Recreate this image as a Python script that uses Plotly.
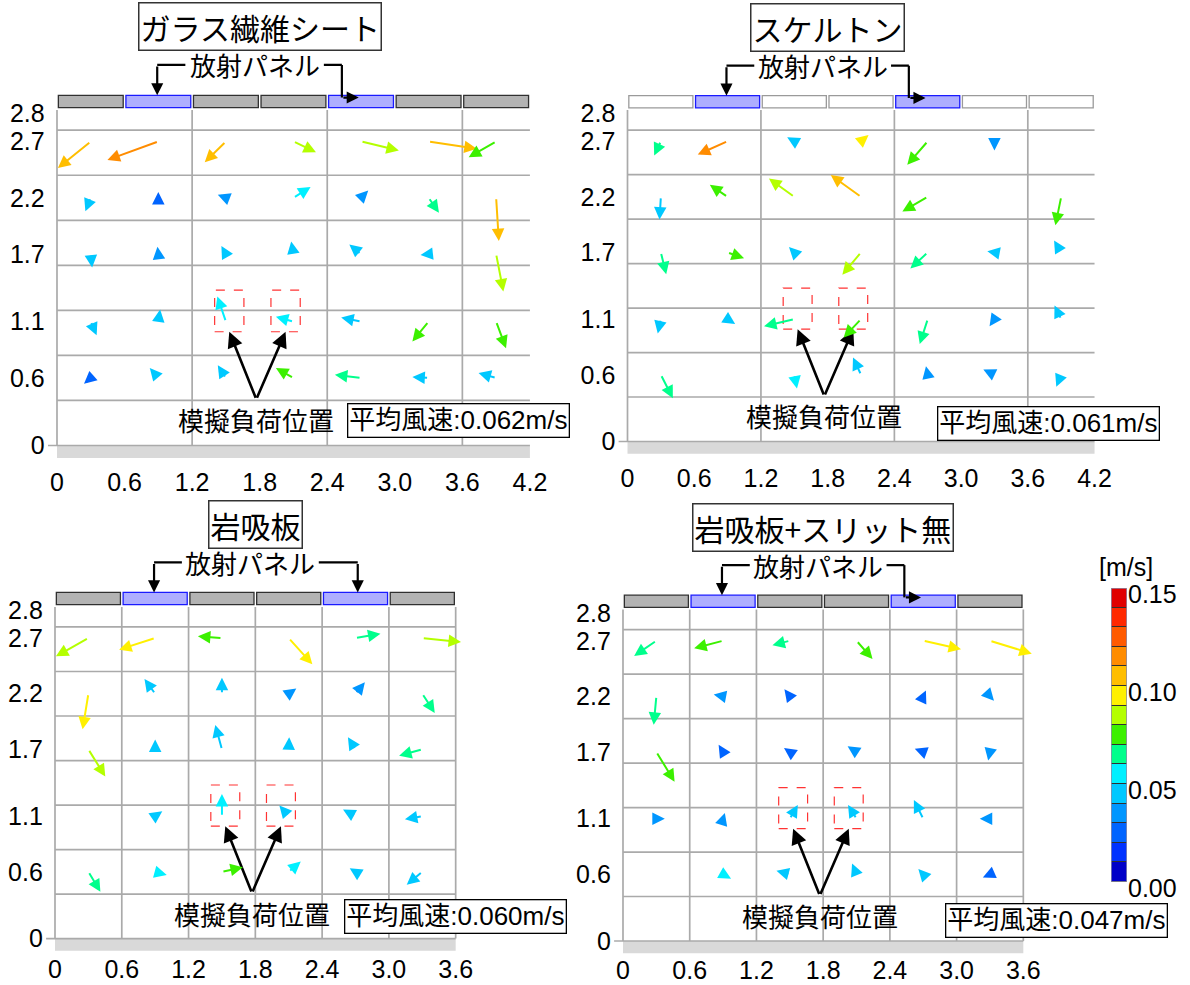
import plotly.graph_objects as go

FIG_W, FIG_H = 1190, 985

# ------------------------------------------------------------------ data
ROW_HEIGHTS = [2.7, 2.2, 1.7, 1.1, 0.6]            # measurement heights [m] (rows top -> bottom)
Y_TICK_VALUES = [0, 0.6, 1.1, 1.7, 2.2, 2.7]
Y_TICK_TEXT = ["0", "0.6", "1.1", "1.7", "2.2", "2.7"]
CEILING_TEXT = "2.8"
X_TICK_VALUES = [0, 0.6, 1.2, 1.8, 2.4, 3.0, 3.6, 4.2]
X_TICK_TEXT = ["0", "0.6", "1.2", "1.8", "2.4", "3.0", "3.6", "4.2"]

PANEL_TITLES = ["ガラス繊維シート", "スケルトン", "岩吸板", "岩吸板+スリット無"]
ROOM_WIDTHS = [4.2, 4.2, 3.6, 3.6]
MEAN_SPEEDS = [0.062, 0.061, 0.060, 0.047]
SEGMENT_WIDTH = 0.6
RADIANT_SEGMENTS = [1, 4]
LOAD_X = [1.53, 2.03]
LOAD_Y = [1.01, 1.38]

SPEED_TICKS = [0.00, 0.05, 0.10, 0.15]
SPEED_TICK_TEXT = ["0.00", "0.05", "0.10", "0.15"]
BAND_STEP = 0.01
BAND_COLORS = ["#0000C8", "#0032FF", "#0064FF", "#0096FF", "#00C8FF",
               "#00F0FF", "#00FF8C", "#3CF000", "#B4FF00", "#FFF000",
               "#FFBE00", "#FF8C00", "#FF5A00", "#FF2800", "#E00000"]

# in-plane components u (horizontal) / w (vertical) [m/s] and speed magnitude [m/s]
GLASS_U = [[-0.073, -0.113, -0.047, 0.050, 0.084, 0.107, -0.061],
           [-0.012, 0.000, -0.018, 0.038, 0.016, 0.023, 0.006],
           [0.003, -0.002, -0.010, -0.005, -0.026, -0.018, 0.016],
           [0.013, 0.004, -0.019, -0.039, -0.044, -0.036, 0.022],
           [-0.015, -0.019, -0.018, -0.039, -0.058, -0.036, -0.039]]
GLASS_W = [[-0.059, -0.041, -0.046, -0.024, -0.020, -0.016, -0.035],
           [-0.030, 0.013, 0.007, 0.024, 0.016, -0.033, -0.096],
           [-0.030, 0.016, 0.018, 0.028, 0.021, -0.002, -0.083],
           [-0.030, 0.027, 0.056, 0.011, 0.009, -0.044, -0.059],
           [-0.013, 0.022, 0.028, 0.022, 0.007, 0.002, 0.011]]
GLASS_S = [[0.105, 0.119, 0.105, 0.085, 0.088, 0.109, 0.075],
           [0.045, 0.025, 0.035, 0.055, 0.035, 0.065, 0.105],
           [0.045, 0.035, 0.045, 0.045, 0.045, 0.045, 0.088],
           [0.045, 0.045, 0.059, 0.055, 0.045, 0.075, 0.075],
           [0.025, 0.045, 0.045, 0.075, 0.065, 0.045, 0.045]]

SKEL_U = [[-0.015, -0.067, -0.016, 0.017, -0.046, 0.000, 0.007],
          [-0.003, -0.040, -0.057, -0.068, -0.057, -0.003, -0.013],
          [0.012, 0.037, -0.012, -0.042, -0.039, -0.016, -0.016],
          [-0.007, 0.017, -0.068, -0.039, -0.018, -0.011, -0.015],
          [0.027, -0.005, 0.006, -0.018, -0.004, -0.025, -0.011]]
SKEL_W = [[-0.032, -0.030, 0.009, 0.014, -0.053, -0.021, -0.007],
          [-0.051, 0.027, 0.041, 0.049, -0.033, 0.009, -0.064],
          [-0.049, -0.013, 0.012, -0.050, -0.036, 0.003, 0.027],
          [-0.032, -0.011, -0.016, -0.041, -0.056, -0.016, 0.031],
          [-0.053, 0.003, -0.031, 0.039, 0.019, 0.012, -0.027]]
SKEL_S = [[0.065, 0.115, 0.045, 0.095, 0.075, 0.035, 0.025],
          [0.049, 0.075, 0.085, 0.105, 0.075, 0.035, 0.075],
          [0.065, 0.075, 0.045, 0.085, 0.065, 0.045, 0.045],
          [0.045, 0.045, 0.069, 0.075, 0.065, 0.035, 0.045],
          [0.065, 0.055, 0.055, 0.045, 0.035, 0.035, 0.045]]

ROCK_U = [[-0.073, -0.081, -0.054, 0.053, 0.056, 0.087],
          [-0.013, -0.024, 0.000, 0.017, 0.021, 0.028],
          [0.038, 0.000, -0.015, 0.001, -0.017, -0.052],
          [-0.005, 0.016, 0.000, -0.021, -0.028, -0.039],
          [0.027, 0.026, 0.047, 0.027, -0.013, -0.035]]
ROCK_W = [[-0.041, -0.026, 0.004, -0.059, 0.010, -0.009],
          [-0.080, 0.033, 0.036, 0.012, 0.026, -0.043],
          [-0.061, 0.022, 0.055, 0.027, 0.027, -0.014],
          [0.008, 0.011, 0.050, 0.024, 0.015, -0.007],
          [-0.045, -0.007, 0.010, 0.023, 0.008, -0.029]]
ROCK_S = [[0.085, 0.095, 0.075, 0.095, 0.065, 0.088],
          [0.095, 0.045, 0.045, 0.035, 0.035, 0.065],
          [0.085, 0.045, 0.049, 0.045, 0.045, 0.065],
          [0.035, 0.045, 0.055, 0.045, 0.045, 0.045],
          [0.065, 0.055, 0.075, 0.055, 0.045, 0.045]]

NOSLIT_U = [[-0.050, -0.065, -0.039, 0.036, 0.085, 0.094],
            [-0.006, -0.021, -0.012, -0.004, 0.006, 0.009],
            [0.041, -0.010, -0.013, -0.020, -0.019, -0.004],
            [0.019, 0.004, 0.018, -0.019, -0.021, -0.023],
            [0.002, 0.018, -0.030, -0.010, -0.011, -0.016]]
NOSLIT_W = [[-0.034, -0.017, -0.010, -0.041, -0.019, -0.029],
            [-0.064, 0.004, 0.016, 0.002, 0.013, -0.010],
            [-0.067, 0.016, 0.009, 0.013, 0.007, -0.019],
            [0.000, 0.013, 0.031, 0.031, 0.042, 0.000],
            [0.002, -0.010, 0.008, 0.024, 0.012, -0.007]]
NOSLIT_S = [[0.065, 0.075, 0.065, 0.075, 0.095, 0.099],
            [0.065, 0.035, 0.025, 0.045, 0.025, 0.035],
            [0.075, 0.025, 0.025, 0.035, 0.025, 0.035],
            [0.035, 0.035, 0.045, 0.045, 0.045, 0.035],
            [0.045, 0.055, 0.045, 0.045, 0.045, 0.025]]

PANEL_U = [GLASS_U, SKEL_U, ROCK_U, NOSLIT_U]
PANEL_W = [GLASS_W, SKEL_W, ROCK_W, NOSLIT_W]
PANEL_S = [GLASS_S, SKEL_S, ROCK_S, NOSLIT_S]

# ------------------------------------------------------------------ layout / style
ARROW_SCALE = 4.0          # drawn metres per (m/s)
CEILING_LABEL_POS = 2.95
ROOM_TOP = 2.98
BAR_Y = (3.0, 3.11)
FLOOR_Y = (-0.11, 0.0)
GRID_DY = 0.4
Y_RANGE = (-0.13, 3.95)
BRACKET_Y = 3.38
FONT = "Liberation Sans, Noto Sans CJK JP, sans-serif"
JFONT = "Noto Sans CJK JP, sans-serif"
GRID_COLOR = "#AAAAAA"

PANEL_LAYOUT = [
    dict(x0=57.0, y0=445.5, s=112.6, standoff=5, grid_dx=1.2, mean_xy=(3.57, 0.22), bracket="turn", plain="gray"),
    dict(x0=627.5, y0=441.5, s=111.2, standoff=5, grid_dx=1.2, mean_xy=(3.79, 0.16), bracket="turn", plain="white"),
    dict(x0=55.0, y0=938.6, s=111.3, standoff=-1, grid_dx=0.6, mean_xy=(3.60, 0.20), bracket="down", plain="gray"),
    dict(x0=623.0, y0=941.0, s=111.2, standoff=-2, grid_dx=0.6, mean_xy=(3.90, 0.18), bracket="turn", plain="gray"),
]


def band_color(speed):
    i = int(speed / BAND_STEP + 1e-9)
    return BAND_COLORS[max(0, min(i, len(BAND_COLORS) - 1))]


fig = go.Figure()
shapes, annotations = [], []
layout_axes = {}

for p, L in enumerate(PANEL_LAYOUT):
    n = p + 1
    xa = "x" if n == 1 else f"x{n}"
    ya = "y" if n == 1 else f"y{n}"
    xkey = "xaxis" if n == 1 else f"xaxis{n}"
    ykey = "yaxis" if n == 1 else f"yaxis{n}"
    Wr = ROOM_WIDTHS[p]
    xr = (-0.1, Wr + 0.45)
    s = L["s"]
    xdom = [(L["x0"] + xr[0] * s) / FIG_W, (L["x0"] + xr[1] * s) / FIG_W]
    ydom = [1 - (L["y0"] - Y_RANGE[0] * s) / FIG_H, 1 - (L["y0"] - Y_RANGE[1] * s) / FIG_H]
    nx = int(round(Wr / SEGMENT_WIDTH))
    xt_vals = [v for v in X_TICK_VALUES if v <= Wr + 1e-9]
    xt_text = X_TICK_TEXT[:len(xt_vals)]

    layout_axes[xkey] = dict(domain=xdom, range=list(xr), anchor=ya, showgrid=False, zeroline=False,
                             showline=False, ticks="", tickvals=xt_vals, ticktext=xt_text,
                             tickfont=dict(size=25, color="black", family=FONT), automargin=False,
                             ticklabelstandoff=L["standoff"], fixedrange=True)
    layout_axes[ykey] = dict(domain=ydom, range=list(Y_RANGE), anchor=xa, showgrid=False, zeroline=False,
                             showline=False, ticks="", automargin=False,
                             tickvals=Y_TICK_VALUES + [CEILING_LABEL_POS],
                             ticktext=Y_TICK_TEXT + [CEILING_TEXT],
                             tickfont=dict(size=25, color="black", family=FONT), fixedrange=True)

    # floor
    shapes.append(dict(type="rect", xref=xa, yref=ya, x0=0, x1=Wr, y0=FLOOR_Y[0], y1=FLOOR_Y[1],
                       fillcolor="#D9D9D9", line=dict(width=0), layer="below"))
    # horizontal grid lines
    k = 0
    while k * GRID_DY <= ROOM_TOP - 0.1:
        yy = k * GRID_DY
        shapes.append(dict(type="line", xref=xa, yref=ya, x0=(-0.08 if k == 0 else 0), x1=Wr, y0=yy, y1=yy,
                           line=dict(color=GRID_COLOR, width=1.7), layer="below"))
        k += 1
    # vertical grid lines
    k = 0
    while k * L["grid_dx"] <= Wr - 0.3:
        xx = k * L["grid_dx"]
        shapes.append(dict(type="line", xref=xa, yref=ya, x0=xx, x1=xx, y0=0, y1=ROOM_TOP,
                           line=dict(color=GRID_COLOR, width=1.7), layer="below"))
        k += 1
    if abs(Wr - 3.6) < 1e-9:
        shapes.append(dict(type="line", xref=xa, yref=ya, x0=Wr, x1=Wr, y0=0, y1=ROOM_TOP,
                           line=dict(color=GRID_COLOR, width=1.7), layer="below"))
    # ceiling panels
    for i in range(nx):
        rad = i in RADIANT_SEGMENTS
        if rad:
            fc, lc = "#AEAEFF", "#1A1AFF"
        elif L["plain"] == "white":
            fc, lc = "#FFFFFF", "#9A9A9A"
        else:
            fc, lc = "#B3B3B3", "#303030"
        shapes.append(dict(type="rect", xref=xa, yref=ya, x0=i * SEGMENT_WIDTH + 0.012,
                           x1=(i + 1) * SEGMENT_WIDTH - 0.012, y0=BAR_Y[0], y1=BAR_Y[1],
                           fillcolor=fc, line=dict(color=lc, width=1.3)))

    # title
    annotations.append(dict(xref=xa, yref=ya, x=1.8, y=3.72, text=PANEL_TITLES[p], showarrow=False,
                            font=dict(size=30, family=JFONT, color="black"), bordercolor="#333333",
                            borderwidth=1.5, borderpad=1, bgcolor="white"))

    # radiant panel label with brackets
    c_left = (RADIANT_SEGMENTS[0] + 0.5) * SEGMENT_WIDTH
    c_right = (RADIANT_SEGMENTS[1] + 0.5) * SEGMENT_WIDTH
    annotations.append(dict(xref=xa, yref=ya, x=1.755, y=BRACKET_Y, text="放射パネル", showarrow=False,
                            font=dict(size=26, family=JFONT, color="black")))
    blk = dict(color="black", width=2.2)
    shapes.append(dict(type="line", xref=xa, yref=ya, x0=c_left - 0.01, x1=1.14, y0=BRACKET_Y, y1=BRACKET_Y, line=blk))
    annotations.append(dict(xref=xa, yref=ya, axref=xa, ayref=ya, x=c_left - 0.01, y=BAR_Y[1], ax=c_left - 0.01,
                            ay=BRACKET_Y, text="", showarrow=True, arrowhead=2, arrowsize=1.1, arrowwidth=2.2,
                            arrowcolor="black", standoff=0, startstandoff=0))
    if L["bracket"] == "turn":
        xv = c_right - 0.17
        shapes.append(dict(type="line", xref=xa, yref=ya, x0=2.37, x1=xv, y0=BRACKET_Y, y1=BRACKET_Y, line=blk))
        shapes.append(dict(type="line", xref=xa, yref=ya, x0=xv, x1=xv, y0=BRACKET_Y, y1=3.09, line=blk))
        annotations.append(dict(xref=xa, yref=ya, axref=xa, ayref=ya, x=c_right - 0.02, y=3.09, ax=xv, ay=3.09,
                                text="", showarrow=True, arrowhead=2, arrowsize=1.1, arrowwidth=2.2,
                                arrowcolor="black", standoff=0, startstandoff=0))
    else:
        shapes.append(dict(type="line", xref=xa, yref=ya, x0=2.37, x1=c_right + 0.02, y0=BRACKET_Y, y1=BRACKET_Y, line=blk))
        annotations.append(dict(xref=xa, yref=ya, axref=xa, ayref=ya, x=c_right + 0.02, y=BAR_Y[1],
                                ax=c_right + 0.02, ay=BRACKET_Y, text="", showarrow=True, arrowhead=2,
                                arrowsize=1.1, arrowwidth=2.2, arrowcolor="black", standoff=0, startstandoff=0))

    # load boxes and pointer
    for lx in LOAD_X:
        shapes.append(dict(type="rect", xref=xa, yref=ya, x0=lx - 0.13, x1=lx + 0.13, y0=LOAD_Y[0], y1=LOAD_Y[1],
                           line=dict(color="#FF3333", width=1.2, dash="dash"), fillcolor="rgba(0,0,0,0)"))
        annotations.append(dict(xref=xa, yref=ya, axref=xa, ayref=ya, x=lx, y=LOAD_Y[0], ax=1.77, ay=0.41,
                                text="", showarrow=True, arrowhead=2, arrowsize=1.2, arrowwidth=2.6,
                                arrowcolor="black", standoff=0, startstandoff=0))
    annotations.append(dict(xref=xa, yref=ya, x=1.77, y=0.23, text="模擬負荷位置", showarrow=False,
                            font=dict(size=26, family=JFONT, color="black")))
    # mean speed box
    mx, my = L["mean_xy"]
    annotations.append(dict(xref=xa, yref=ya, x=mx, y=my, text=f"平均風速:{MEAN_SPEEDS[p]:.3f}m/s",
                            showarrow=False, font=dict(size=26, family=FONT, color="black"),
                            bordercolor="black", borderwidth=1.3, borderpad=1, bgcolor="white"))

    # velocity vectors
    U, Wv, S = PANEL_U[p], PANEL_W[p], PANEL_S[p]
    tx, ty, hov = [], [], []
    for r, h in enumerate(ROW_HEIGHTS):
        for c in range(len(U[r])):
            xt = SEGMENT_WIDTH * (c + 0.5)
            yt = h
            annotations.append(dict(xref=xa, yref=ya, axref=xa, ayref=ya,
                                    x=xt + U[r][c] * ARROW_SCALE, y=yt + Wv[r][c] * ARROW_SCALE,
                                    ax=xt, ay=yt, text="", showarrow=True, arrowhead=2, arrowsize=1.25,
                                    arrowwidth=2, arrowcolor=band_color(S[r][c]), standoff=0,
                                    startstandoff=0))
            tx.append(xt)
            ty.append(yt)
            hov.append(f"{S[r][c]:.3f} m/s")
    fig.add_trace(go.Scatter(x=tx, y=ty, xaxis=xa, yaxis=ya, mode="markers",
                             marker=dict(size=6, opacity=0), text=hov, hoverinfo="text", showlegend=False))

# ------------------------------------------------------------------ colour bar
nb = len(BAND_COLORS)
centers = [BAND_STEP * (i + 0.5) for i in range(nb)]
cscale = []
for i, col in enumerate(BAND_COLORS):
    cscale.append([i / nb, col])
    cscale.append([(i + 1) / nb, col])
fig.add_trace(go.Heatmap(z=[[v] for v in centers], y=centers, x=[0.5], colorscale=cscale,
                         zmin=0, zmax=BAND_STEP * nb, showscale=False, ygap=1, hoverinfo="skip",
                         xaxis="x5", yaxis="y5"))
layout_axes["xaxis5"] = dict(domain=[1111 / FIG_W, 1127 / FIG_W], range=[0, 1], anchor="y5", showgrid=False,
                             zeroline=False, showline=False, showticklabels=False, ticks="", fixedrange=True,
                             automargin=False)
layout_axes["yaxis5"] = dict(domain=[1 - 882 / FIG_H, 1 - 588 / FIG_H], range=[0, BAND_STEP * nb], anchor="x5",
                             side="right", showgrid=False, zeroline=False, showline=False, ticks="",
                             tickvals=SPEED_TICKS, ticktext=SPEED_TICK_TEXT, ticklabelshift=6,
                             ticklabelstandoff=0, tickfont=dict(size=25, color="black", family=FONT),
                             fixedrange=True, automargin=False)
shapes.append(dict(type="rect", xref="x5", yref="y5", x0=0, x1=1, y0=0, y1=BAND_STEP * nb,
                   fillcolor="#303030", line=dict(width=0), layer="below"))
shapes.append(dict(type="rect", xref="x5", yref="y5", x0=0, x1=1, y0=0, y1=BAND_STEP * nb,
                   fillcolor="rgba(0,0,0,0)", line=dict(color="#8C8CA8", width=1.5)))
annotations.append(dict(xref="paper", yref="paper", x=1155 / FIG_W, y=1 - 567 / FIG_H, text="[m/s]",
                        showarrow=False, font=dict(size=25, family=FONT, color="black")))

fig.update_layout(width=FIG_W, height=FIG_H, margin=dict(l=0, r=0, t=0, b=0, pad=0), autosize=False,
                  paper_bgcolor="white", plot_bgcolor="white", showlegend=False,
                  font=dict(family=FONT, color="black"), shapes=shapes, annotations=annotations,
                  hovermode="closest", **layout_axes)

fig.write_html("out.html")
